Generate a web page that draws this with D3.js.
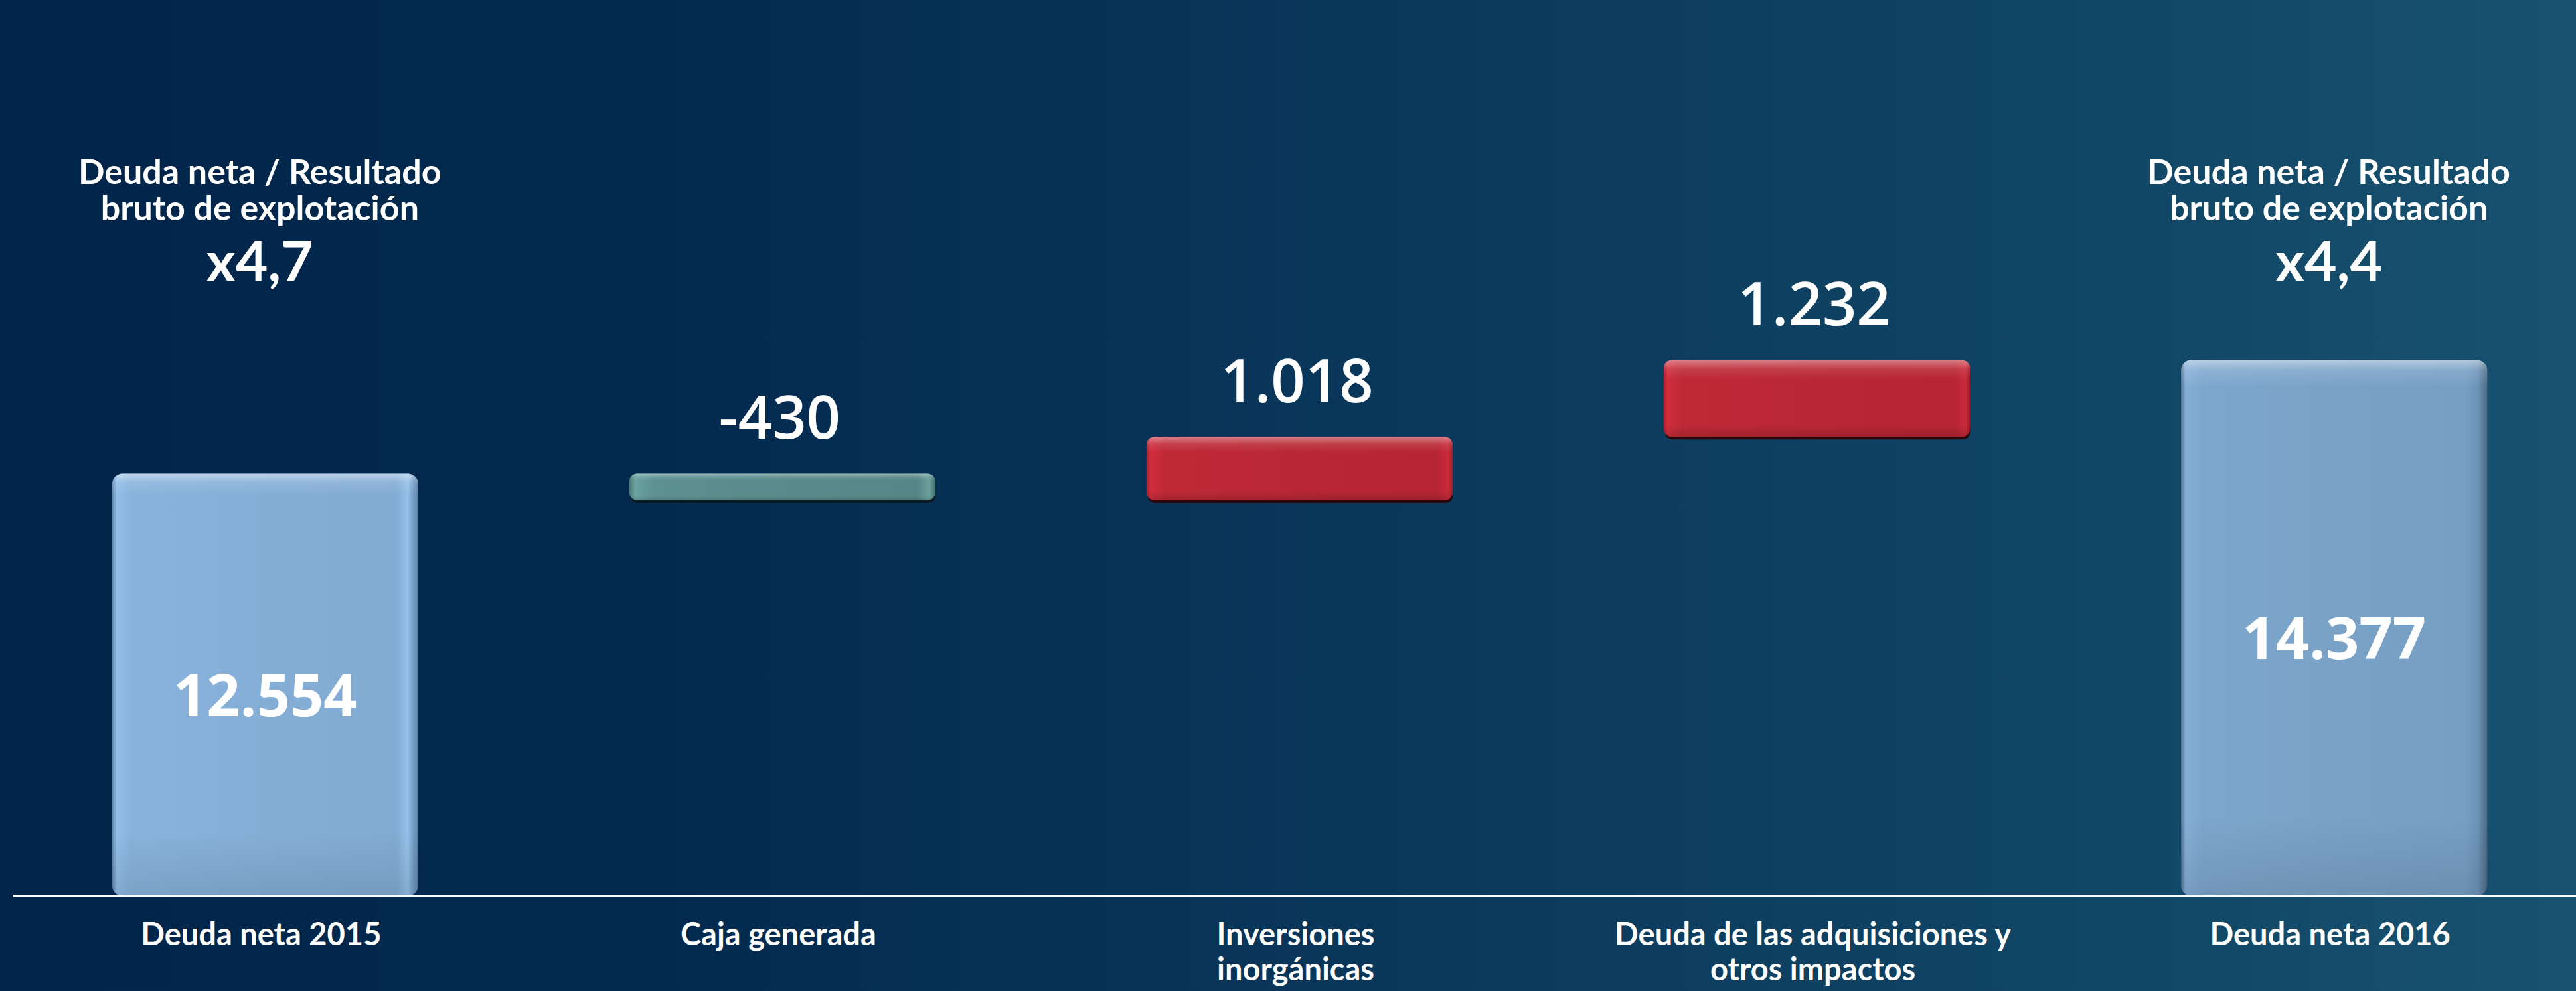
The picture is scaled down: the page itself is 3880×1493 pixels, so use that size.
<!DOCTYPE html>
<html>
<head>
<meta charset="utf-8">
<script src="https://cdn.jsdelivr.net/npm/d3@7"></script>
<style>
    html, body { margin: 0; padding: 0; overflow: hidden; }
    svg { display: block; }
</style>
</head>
<body>
<div id="chart"></div>
<script>
// waterfall data: net debt bridge 2015 -> 2016
const categories = ['Deuda neta 2015', 'Caja generada', 'Inversiones inorgánicas', 'Deuda de las adquisiciones y otros impactos', 'Deuda neta 2016'];
const categoryLines = [['Deuda neta 2015'], ['Caja generada'], ['Inversiones', 'inorgánicas'], ['Deuda de las adquisiciones y', 'otros impactos'], ['Deuda neta 2016']];
const values = [12554, -430, 1018, 1232, 14377];
const kinds = ['total', 'delta', 'delta', 'delta', 'total'];
const valueLabels = ['12.554', '-430', '1.018', '1.232', '14.377'];
const ratioTitle = ['Deuda neta / Resultado', 'bruto de explotación'];
const ratioLabels = ['x4,7', null, null, null, 'x4,4'];

const width = 3880;
const height = 1493;
const baseY = 1348;

const svg = d3.select('#chart')
    .append('svg')
    .attr('width', width)
    .attr('height', height);

const defs = svg.append('defs');

// background gradient
const bg = defs.append('linearGradient').attr('id', 'bg').attr('x1', 0).attr('x2', 1).attr('y1', 0).attr('y2', 0);
[[0, '#02254a'], [0.25, '#032a4e'], [0.45, '#073357'], [0.62, '#0c3c5e'], [0.82, '#114665'], [1, '#185270']]
    .forEach(([o, c]) => bg.append('stop').attr('offset', o).attr('stop-color', c));

svg.append('rect').attr('width', width).attr('height', height).attr('fill', 'url(#bg)');

// bar gradients (horizontal body + vertical sheen)
function hGrad(id, stops) {
    const g = defs.append('linearGradient').attr('id', id).attr('x1', 0).attr('x2', 1).attr('y1', 0).attr('y2', 0);
    stops.forEach(([o, c]) => g.append('stop').attr('offset', o).attr('stop-color', c));
}
hGrad('blue', [[0, '#5c82a6'], [0.015, '#92bee8'], [0.06, '#89b3dc'], [0.5, '#85aed7'], [0.93, '#82abd3'], [0.965, '#95c0ea'], [1, '#5a7fa3']]);
hGrad('blue2', [[0, '#4e6f8e'], [0.015, '#86afd8'], [0.07, '#7ea7cd'], [0.5, '#7aa2c7'], [0.93, '#779fc4'], [0.97, '#6d93b6'], [1, '#4c6b88']]);
hGrad('red', [[0, '#a81f2c'], [0.012, '#d02d3d'], [0.06, '#bf2936'], [0.5, '#b92735'], [0.95, '#b72533'], [0.985, '#c92b3a'], [1, '#9c1c28']]);
hGrad('teal', [[0, '#4b7877'], [0.02, '#6aa3a1'], [0.08, '#5d9190'], [0.5, '#5a8a8a'], [0.94, '#578686'], [0.98, '#6aa09e'], [1, '#446e6d']]);

const sheen = defs.append('linearGradient').attr('id', 'sheen').attr('x1', 0).attr('x2', 0).attr('y1', 0).attr('y2', 1);
[[0, '#ffffff', 0.45], [0.02, '#ffffff', 0.12], [0.05, '#ffffff', 0], [0.85, '#000000', 0], [1, '#000000', 0.1]]
    .forEach(([o, c, a]) => sheen.append('stop').attr('offset', o).attr('stop-color', c).attr('stop-opacity', a));

const sheenThin = defs.append('linearGradient').attr('id', 'sheenThin').attr('x1', 0).attr('x2', 0).attr('y1', 0).attr('y2', 1);
[[0, '#ffffff', 0.4], [0.12, '#ffffff', 0.1], [0.25, '#ffffff', 0], [0.85, '#000000', 0], [1, '#000000', 0.15]]
    .forEach(([o, c, a]) => sheenThin.append('stop').attr('offset', o).attr('stop-color', c).attr('stop-opacity', a));

// waterfall steps
let running = 0;
const bars = values.map((v, i) => {
    let lo, hi;
    if (kinds[i] === 'total') {
        lo = null; hi = v; running = v;
    } else {
        const start = running;
        running += v;
        lo = Math.min(start, running);
        hi = Math.max(start, running);
    }
    return { index: i, category: categories[i], value: v, kind: kinds[i], lo, hi, label: valueLabels[i], lines: categoryLines[i], ratio: ratioLabels[i] };
});

const x = d3.scaleBand()
    .domain(categories)
    .range([-65, 3980])
    .paddingInner(0.408)
    .paddingOuter(0.3);

// axis is broken: bars do not start at zero
const y = d3.scaleLinear()
    .domain([5800, 14400])
    .range([baseY, 540]);

function colorOf(d) {
    if (d.kind === 'total') return d.index === 0 ? 'url(#blue)' : 'url(#blue2)';
    return d.value < 0 ? 'url(#teal)' : 'url(#red)';
}

const barG = svg.append('g');

bars.forEach(d => {
    const x0 = x(d.category);
    const w = x.bandwidth();
    const top = y(d.hi);
    const bottom = d.kind === 'total' ? baseY + 2 : y(d.lo);
    const h = bottom - top;
    const g = barG.append('g');

    if (d.kind !== 'total') {
        // dark shadow under floating bars
        g.append('rect')
            .attr('x', x0 + 2).attr('y', top + 4)
            .attr('width', w - 2).attr('height', h)
            .attr('rx', 10)
            .attr('fill', d.value < 0 ? '#0b1b22' : '#2a0509');
    }
    g.append('rect')
        .attr('x', x0).attr('y', top)
        .attr('width', w).attr('height', h)
        .attr('rx', d.kind === 'total' ? 16 : 12)
        .attr('fill', colorOf(d));
    g.append('rect')
        .attr('x', x0).attr('y', top)
        .attr('width', w).attr('height', h)
        .attr('rx', d.kind === 'total' ? 16 : 12)
        .attr('fill', d.kind === 'total' ? 'url(#sheen)' : 'url(#sheenThin)');
});

// baseline
svg.append('line')
    .attr('x1', 20).attr('x2', width)
    .attr('y1', 1350).attr('y2', 1350)
    .attr('stroke', '#ffffff')
    .attr('stroke-width', 3);

const labelFont = 'Lato, "Open Sans", sans-serif';
const numFont = '"Open Sans", "Noto Sans", sans-serif';

// value labels
bars.forEach(d => {
    const cx = x(d.category) + x.bandwidth() / 2;
    if (d.kind === 'total') {
        const mid = (y(d.hi) + baseY) / 2;
        svg.append('text')
            .attr('x', cx).attr('y', mid + 48)
            .attr('text-anchor', 'middle')
            .attr('font-family', numFont)
            .attr('font-weight', 700)
            .attr('font-size', 88)
            .attr('fill', '#ffffff')
            .text(d.label);
    } else {
        svg.append('text')
            .attr('x', cx - 4).attr('y', y(d.hi) - 52)
            .attr('text-anchor', 'middle')
            .attr('font-family', numFont)
            .attr('font-weight', 600)
            .attr('font-size', 90)
            .attr('fill', '#ffffff')
            .text(d.label);
    }
});

// ratio annotations above the total bars
bars.filter(d => d.ratio).forEach(d => {
    const cx = x(d.category) + x.bandwidth() / 2 - 8;
    const t = svg.append('text')
        .attr('text-anchor', 'middle')
        .attr('font-family', labelFont)
        .attr('font-weight', 700)
        .attr('fill', '#ffffff');
    ratioTitle.forEach((line, j) => {
        t.append('tspan')
            .attr('x', cx).attr('y', 277 + j * 55)
            .attr('font-size', 52)
            .text(line);
    });
    t.append('tspan')
        .attr('x', cx).attr('y', 424)
        .attr('font-size', 84)
        .text(d.ratio);
});

// category labels
bars.forEach(d => {
    const cx = x(d.category) + x.bandwidth() / 2 - 6;
    const t = svg.append('text')
        .attr('text-anchor', 'middle')
        .attr('font-family', labelFont)
        .attr('font-weight', 700)
        .attr('font-size', 47)
        .attr('fill', '#ffffff');
    d.lines.forEach((line, j) => {
        t.append('tspan')
            .attr('x', cx).attr('y', 1424 + j * 53)
            .text(line);
    });
});
</script>
</body>
</html>
